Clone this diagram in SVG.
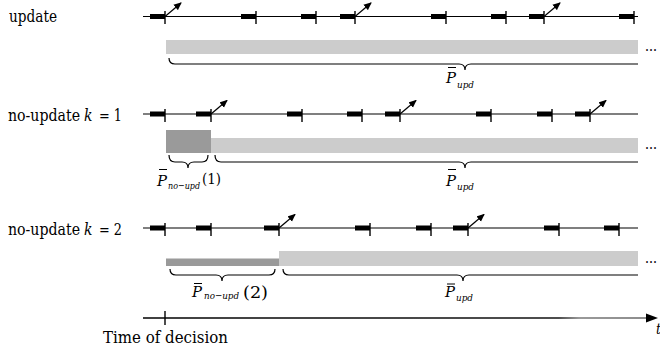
<svg xmlns="http://www.w3.org/2000/svg" width="660" height="354" viewBox="0 0 660 354">
<style>
text{font-family:'DejaVu Serif Condensed','DejaVu Serif','Liberation Serif',serif;fill:#000}
.lbl{font-size:16px}
.it{font-style:italic}
.base{stroke:#000;stroke-width:1.2;fill:none}
.tick{stroke:#000;stroke-width:1.4}
.bar{fill:#000}
.arr{stroke:#000;stroke-width:1.2;marker-end:url(#ah)}
.brace{stroke:#000;stroke-width:1.2;fill:none}
.lg{fill:#cccccc}
.dg{fill:#9a9a9a}
.ob{stroke:#000;stroke-width:1}
.P{font-size:15.5px;font-style:italic}
.sub{font-size:10px;font-style:italic}
.dots{font-size:15px}
</style>
<defs>
<marker id="ah" markerWidth="8" markerHeight="8" refX="7" refY="4" orient="auto" markerUnits="userSpaceOnUse">
<path d="M0,0.5 L8,4 L0,7.5 Z" fill="#000"/>
</marker>
<linearGradient id="axg" gradientUnits="userSpaceOnUse" x1="143" y1="0" x2="650" y2="0">
<stop offset="0" stop-color="#000"/>
<stop offset="0.82" stop-color="#111"/>
<stop offset="0.86" stop-color="#777"/>
<stop offset="1" stop-color="#666"/>
</linearGradient>
</defs>

<g id="row-update">
<text class="lbl" x="9" y="22" textLength="48" lengthAdjust="spacingAndGlyphs">update</text>
<line class="base" x1="143" y1="16.5" x2="638" y2="16.5"/>
<rect class="bar" x="150" y="14" width="15" height="5"/>
<rect class="bar" x="241" y="14" width="15" height="5"/>
<rect class="bar" x="301" y="14" width="15" height="5"/>
<rect class="bar" x="340" y="14" width="15" height="5"/>
<rect class="bar" x="431" y="14" width="15" height="5"/>
<rect class="bar" x="491" y="14" width="15" height="5"/>
<rect class="bar" x="529" y="14" width="15" height="5"/>
<rect class="bar" x="619" y="14" width="15" height="5"/>
<line class="tick" x1="165" y1="11" x2="165" y2="24"/>
<line class="tick" x1="256" y1="11" x2="256" y2="24"/>
<line class="tick" x1="316" y1="11" x2="316" y2="24"/>
<line class="tick" x1="355" y1="11" x2="355" y2="24"/>
<line class="tick" x1="446" y1="11" x2="446" y2="24"/>
<line class="tick" x1="506" y1="11" x2="506" y2="24"/>
<line class="tick" x1="544" y1="11" x2="544" y2="24"/>
<line class="tick" x1="634" y1="11" x2="634" y2="24"/>
<rect class="lg" x="166" y="40" width="472" height="14"/>
<text class="dots" x="645" y="51" textLength="12" lengthAdjust="spacingAndGlyphs">...</text>
<text class="P" x="446" y="83" textLength="10" lengthAdjust="spacingAndGlyphs">P</text>
<line class="ob" x1="448" y1="67.5" x2="456" y2="67.5"/>
<text class="sub" x="457" y="88" textLength="17" lengthAdjust="spacingAndGlyphs">upd</text>
</g>

<g id="row-k1">
<text class="lbl" x="8" y="121" textLength="72" lengthAdjust="spacingAndGlyphs">no-update</text>
<text class="lbl it" x="84" y="121" textLength="8.5" lengthAdjust="spacingAndGlyphs">k</text>
<text class="lbl" x="99" y="121" textLength="23" lengthAdjust="spacingAndGlyphs">= 1</text>
<line class="base" x1="143" y1="114" x2="638" y2="114"/>
<rect class="bar" x="150" y="111.5" width="15" height="5"/>
<rect class="bar" x="196" y="111.5" width="15" height="5"/>
<rect class="bar" x="287" y="111.5" width="15" height="5"/>
<rect class="bar" x="347" y="111.5" width="15" height="5"/>
<rect class="bar" x="385" y="111.5" width="15" height="5"/>
<rect class="bar" x="476" y="111.5" width="15" height="5"/>
<rect class="bar" x="537" y="111.5" width="15" height="5"/>
<rect class="bar" x="575" y="111.5" width="15" height="5"/>
<line class="tick" x1="165" y1="109" x2="165" y2="122"/>
<line class="tick" x1="211" y1="109" x2="211" y2="122"/>
<line class="tick" x1="302" y1="109" x2="302" y2="122"/>
<line class="tick" x1="362" y1="109" x2="362" y2="122"/>
<line class="tick" x1="400" y1="109" x2="400" y2="122"/>
<line class="tick" x1="491" y1="109" x2="491" y2="122"/>
<line class="tick" x1="552" y1="109" x2="552" y2="122"/>
<line class="tick" x1="590" y1="109" x2="590" y2="122"/>
<rect class="dg" x="166" y="130" width="45" height="23"/>
<rect class="lg" x="211" y="138" width="427" height="15"/>
<text class="dots" x="645" y="149" textLength="12" lengthAdjust="spacingAndGlyphs">...</text>
<text class="P" x="157" y="186" textLength="10" lengthAdjust="spacingAndGlyphs">P</text>
<line class="ob" x1="159" y1="169.5" x2="167" y2="169.5"/>
<text class="sub" x="168" y="189" textLength="32" lengthAdjust="spacingAndGlyphs">no−upd</text>
<text x="202" y="184" font-size="15.5" textLength="19" lengthAdjust="spacingAndGlyphs">(1)</text>
<text class="P" x="446" y="186" textLength="10" lengthAdjust="spacingAndGlyphs">P</text>
<line class="ob" x1="448" y1="169.5" x2="456" y2="169.5"/>
<text class="sub" x="457" y="190" textLength="17" lengthAdjust="spacingAndGlyphs">upd</text>
</g>

<g id="row-k2">
<text class="lbl" x="8" y="235" textLength="72" lengthAdjust="spacingAndGlyphs">no-update</text>
<text class="lbl it" x="84" y="235" textLength="8.5" lengthAdjust="spacingAndGlyphs">k</text>
<text class="lbl" x="99" y="235" textLength="23" lengthAdjust="spacingAndGlyphs">= 2</text>
<line class="base" x1="143" y1="228" x2="638" y2="228"/>
<rect class="bar" x="150" y="225.5" width="15" height="5"/>
<rect class="bar" x="196" y="225.5" width="15" height="5"/>
<rect class="bar" x="264" y="225.5" width="15" height="5"/>
<rect class="bar" x="355" y="225.5" width="15" height="5"/>
<rect class="bar" x="416" y="225.5" width="15" height="5"/>
<rect class="bar" x="453" y="225.5" width="15" height="5"/>
<rect class="bar" x="544" y="225.5" width="15" height="5"/>
<rect class="bar" x="604" y="225.5" width="15" height="5"/>
<line class="tick" x1="165" y1="223" x2="165" y2="236"/>
<line class="tick" x1="211" y1="223" x2="211" y2="236"/>
<line class="tick" x1="279" y1="223" x2="279" y2="236"/>
<line class="tick" x1="370" y1="223" x2="370" y2="236"/>
<line class="tick" x1="431" y1="223" x2="431" y2="236"/>
<line class="tick" x1="468" y1="223" x2="468" y2="236"/>
<line class="tick" x1="559" y1="223" x2="559" y2="236"/>
<line class="tick" x1="619" y1="223" x2="619" y2="236"/>
<rect class="dg" x="166" y="258.5" width="113" height="7.5"/>
<rect class="lg" x="279" y="251" width="359" height="15"/>
<text class="dots" x="645" y="263" textLength="12" lengthAdjust="spacingAndGlyphs">...</text>
<text class="P" x="192" y="297" textLength="10" lengthAdjust="spacingAndGlyphs">P</text>
<line class="ob" x1="194" y1="283.5" x2="202" y2="283.5"/>
<text class="sub" x="204" y="299" textLength="35" lengthAdjust="spacingAndGlyphs">no−upd</text>
<text x="243" y="298" font-size="17" textLength="25" lengthAdjust="spacingAndGlyphs">(2)</text>
<text class="P" x="445" y="297" textLength="10" lengthAdjust="spacingAndGlyphs">P</text>
<line class="ob" x1="447" y1="284" x2="455" y2="284"/>
<text class="sub" x="456" y="301" textLength="17" lengthAdjust="spacingAndGlyphs">upd</text>
</g>

<g id="time-axis">
<line x1="143" y1="318" x2="648" y2="318" stroke="url(#axg)" stroke-width="1.4"/>
<path d="M646,313.5 L658,318 L646,322.5 Z" fill="#000"/>
<line class="tick" x1="165" y1="311" x2="165" y2="325"/>
<text class="lbl" x="103" y="343" textLength="125" lengthAdjust="spacingAndGlyphs">Time of decision</text>
<text class="it" x="656" y="334" font-size="14">t</text>
</g>

<g id="connectors">
<line class="arr" x1="165" y1="16.5" x2="181" y2="3"/>
<line class="arr" x1="355" y1="16.5" x2="371" y2="3"/>
<line class="arr" x1="544" y1="16.5" x2="560" y2="3"/>
<line class="arr" x1="211" y1="114" x2="227" y2="100.5"/>
<line class="arr" x1="400" y1="114" x2="416" y2="100.5"/>
<line class="arr" x1="590" y1="114" x2="606" y2="100.5"/>
<line class="arr" x1="279" y1="228" x2="295" y2="214.5"/>
<line class="arr" x1="468" y1="228" x2="484" y2="214.5"/>
<path class="brace" d="M169,58 Q169,64 175,64 L459,64 Q465,64 465,70 Q465,64 471,64 L638,64"/>
<path class="brace" d="M169,155 Q169,162 175,162 L182,162 Q188,162 188,168 Q188,162 194,162 L202,162 Q208,162 208,155"/>
<path class="brace" d="M215,155 Q215,162 221,162 L459,162 Q465,162 465,168 Q465,162 471,162 L638,162"/>
<path class="brace" d="M170,269 Q170,275 176,275 L216,275 Q222,275 222,281 Q222,275 228,275 L269,275 Q275,275 275,269"/>
<path class="brace" d="M283,269 Q283,275 289,275 L457,275 Q463,275 463,281 Q463,275 469,275 L638,275"/>
</g>
</svg>
